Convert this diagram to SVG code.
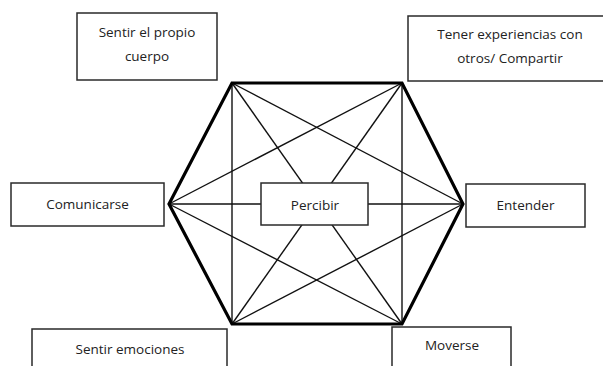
<svg xmlns="http://www.w3.org/2000/svg" width="603" height="366" viewBox="0 0 603 366">
<style>
.box{fill:#fff;stroke:#2a2a2a;stroke-width:1.5}
.lbl{font-family:"Open Sans","Noto Sans",sans-serif;font-size:13.5px;fill:#222;text-anchor:middle}
.in{stroke:#111;stroke-width:1.4;fill:none}
.hex{stroke:#000;stroke-width:3.2;fill:none;stroke-linejoin:miter}
</style>
<rect width="603" height="366" fill="#fff"/>
<g id="connectors">
<line class="in" x1="232" y1="83" x2="232" y2="324"/>
<line class="in" x1="402" y1="83" x2="402" y2="324"/>
<line class="in" x1="169" y1="204" x2="463" y2="204"/>
<line class="in" x1="232" y1="83" x2="402" y2="324"/>
<line class="in" x1="402" y1="83" x2="232" y2="324"/>
<line class="in" x1="232" y1="83" x2="463" y2="204"/>
<line class="in" x1="402" y1="83" x2="169" y2="204"/>
<line class="in" x1="232" y1="324" x2="463" y2="204"/>
<line class="in" x1="402" y1="324" x2="169" y2="204"/>
<polygon class="hex" points="232,83 402,83 463,204 402,324 232,324 169,204"/>
</g>
<g id="percibir"><rect class="box" x="261" y="183" width="107" height="42"/><text class="lbl" x="315" y="210">Percibir</text></g>
<g id="sentir-cuerpo"><rect class="box" x="77" y="13" width="140" height="67"/><text class="lbl" x="147" y="37">Sentir el propio</text><text class="lbl" x="147" y="61">cuerpo</text></g>
<g id="tener-experiencias"><rect class="box" x="408" y="16" width="204" height="65"/><text class="lbl" x="510" y="39">Tener experiencias con</text><text class="lbl" x="510" y="63">otros/ Compartir</text></g>
<g id="comunicarse"><rect class="box" x="11" y="183" width="153" height="43"/><text class="lbl" x="87.5" y="209">Comunicarse</text></g>
<g id="entender"><rect class="box" x="466" y="184" width="119" height="43"/><text class="lbl" x="525.5" y="210">Entender</text></g>
<g id="sentir-emociones"><rect class="box" x="32" y="329" width="195" height="50"/><text class="lbl" x="130" y="354">Sentir emociones</text></g>
<g id="moverse"><rect class="box" x="392" y="327" width="119" height="50"/><text class="lbl" x="452" y="350">Moverse</text></g>
</svg>
